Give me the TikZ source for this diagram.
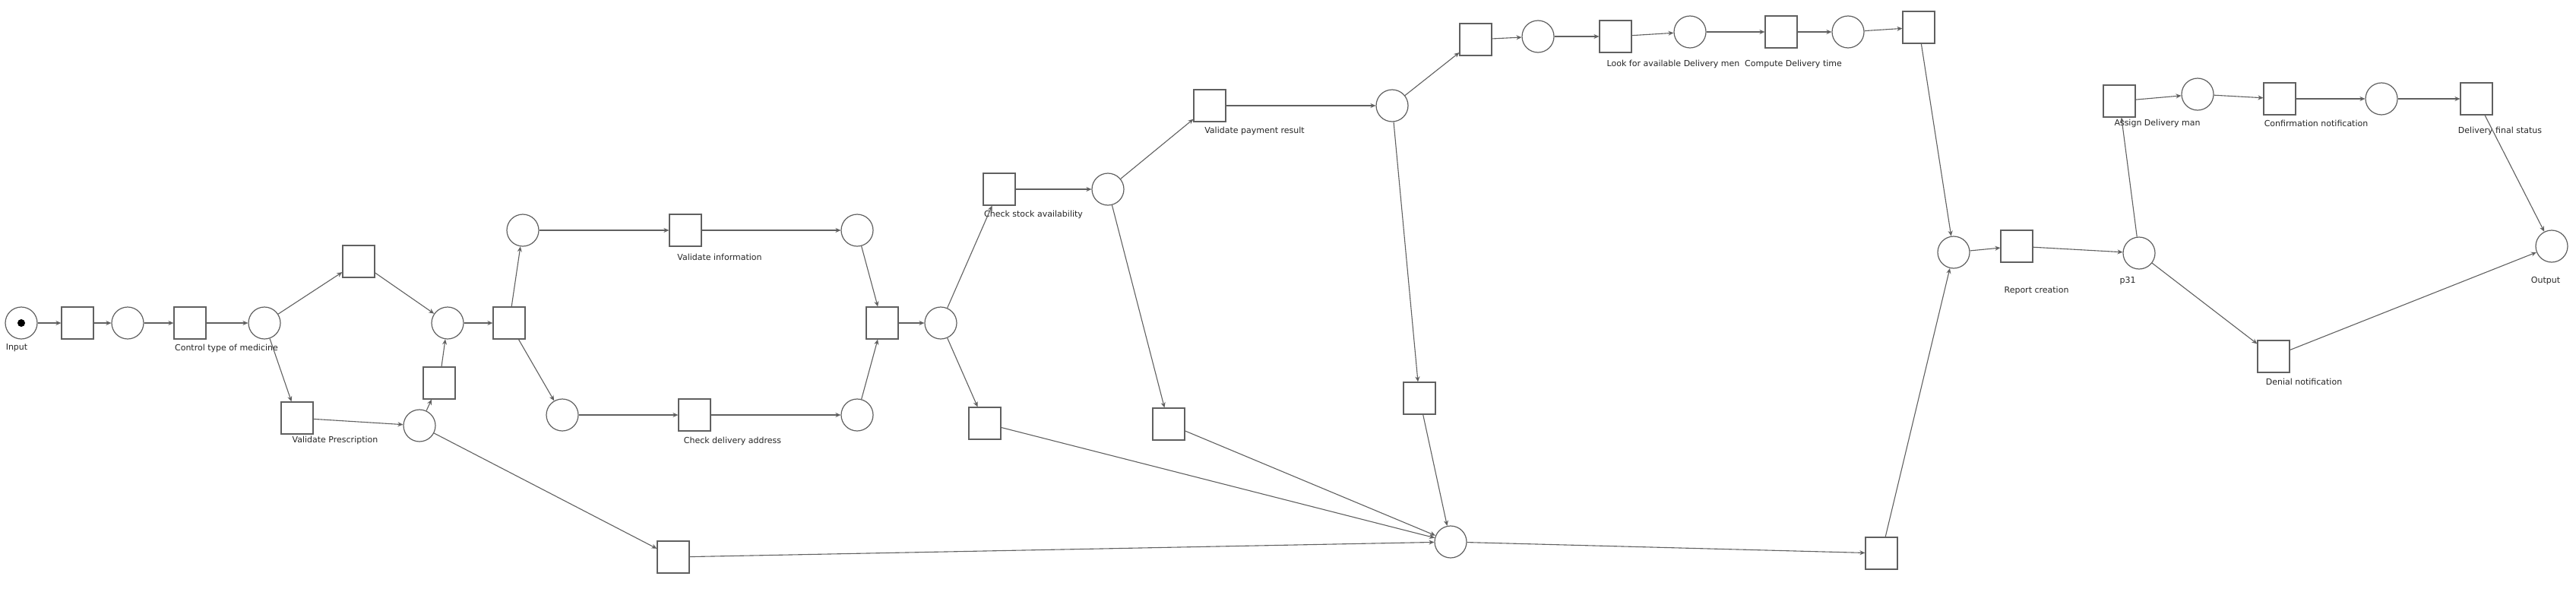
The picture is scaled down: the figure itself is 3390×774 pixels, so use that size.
\documentclass[tikz,border=0pt]{standalone}
\usepackage{fontspec}
\setmainfont{DejaVu Sans}
\usetikzlibrary{arrows.meta}
\definecolor{ln}{HTML}{606060}
\definecolor{tx}{HTML}{262626}
\tikzset{
  place/.style={circle,draw=ln,line width=1.2pt,minimum size=42pt,inner sep=0pt},
  trans/.style={rectangle,draw=ln,line width=1.2pt,minimum width=42pt,minimum height=42pt,inner sep=0pt},
  lbl/.style={text=tx,font=\fontsize{11}{13}\selectfont,inner sep=0pt},
  arc/.style={draw=ln,line width=1.1pt,-{Stealth[length=7pt,width=6pt]}},
  token/.style={circle,fill=black,minimum size=10pt,inner sep=0pt}
}
\begin{document}
\begin{tikzpicture}[x=1pt,y=-1pt]
\useasboundingbox[fill=white] (0,0) rectangle (3390,774);
% places
\node[place] (pin) at (28,425) {};
\node[token] (tok) at (28,425) {};
\node[place] (p2) at (168,425) {};
\node[place] (p3) at (348,425) {};
\node[place] (p4) at (589,425) {};
\node[place] (p5) at (552,560) {};
\node[place] (p6) at (688,303) {};
\node[place] (p7) at (1128,303) {};
\node[place] (p8) at (740,546) {};
\node[place] (p9) at (1128,546) {};
\node[place] (p10) at (1238,425) {};
\node[place] (p11) at (1458,249) {};
\node[place] (p12) at (1832,139) {};
\node[place] (p13) at (2024,48) {};
\node[place] (p14) at (2224,42) {};
\node[place] (p15) at (2432,42) {};
\node[place] (p16) at (2571,332) {};
\node[place] (p17) at (2815,333) {};
\node[place] (p18) at (2892,124) {};
\node[place] (p19) at (3134,130) {};
\node[place] (p20) at (3358,324) {};
\node[place] (p21) at (1909,713) {};
% transitions
\node[trans] (t1) at (102,425) {};
\node[trans] (t2) at (250,425) {};
\node[trans] (t3) at (472,344) {};
\node[trans] (t4) at (391,550) {};
\node[trans] (t5) at (578,504) {};
\node[trans] (t6) at (670,425) {};
\node[trans] (t7) at (902,303) {};
\node[trans] (t8) at (914,546) {};
\node[trans] (t9) at (1161,425) {};
\node[trans] (t10) at (1315,249) {};
\node[trans] (t11) at (1296,557) {};
\node[trans] (t12) at (1538,558) {};
\node[trans] (t13) at (1868,524) {};
\node[trans] (t14) at (1592,139) {};
\node[trans] (t15) at (1942,52) {};
\node[trans] (t16) at (2126,48) {};
\node[trans] (t17) at (2344,42) {};
\node[trans] (t18) at (2525,36) {};
\node[trans] (t19) at (2654,324) {};
\node[trans] (t20) at (2789,133) {};
\node[trans] (t21) at (3000,130) {};
\node[trans] (t22) at (3259,130) {};
\node[trans] (t23) at (2992,469) {};
\node[trans] (t24) at (886,733) {};
\node[trans] (t25) at (2476,728) {};
% labels
\node[lbl] (lin) at (22,458) {Input};
\node[lbl] (lt2) at (298,458) {Control type of medicine};
\node[lbl] (lt4) at (441,579) {Validate Prescription};
\node[lbl] (lt7) at (947,338) {Validate information};
\node[lbl] (lt8) at (964,580) {Check delivery address};
\node[lbl] (lt10) at (1360,282) {Check stock availability};
\node[lbl] (lt14) at (1651,172) {Validate payment result};
\node[lbl] (lt16) at (2202,84) {Look for available Delivery men};
\node[lbl] (lt17) at (2360,84) {Compute Delivery time};
\node[lbl] (lt20) at (2839,162) {Assign Delivery man};
\node[lbl] (lt21) at (3048,162) {Confirmation notification};
\node[lbl] (lt22) at (3290,172) {Delivery final status};
\node[lbl] (lt19) at (2680,382) {Report creation};
\node[lbl] (lp17) at (2800,370) {p31};
\node[lbl] (lp20) at (3350,370) {Output};
\node[lbl] (lt23) at (3032,502) {Denial notification};
% arcs
\draw[arc] (pin) -- (t1);
\draw[arc] (t1) -- (p2);
\draw[arc] (p2) -- (t2);
\draw[arc] (t2) -- (p3);
\draw[arc] (p3) -- (t3);
\draw[arc] (p3) -- (t4);
\draw[arc] (t3) -- (p4);
\draw[arc] (t4) -- (p5);
\draw[arc] (p5) -- (t5);
\draw[arc] (t5) -- (p4);
\draw[arc] (p5) -- (t24);
\draw[arc] (p4) -- (t6);
\draw[arc] (t6) -- (p6);
\draw[arc] (t6) -- (p8);
\draw[arc] (p6) -- (t7);
\draw[arc] (t7) -- (p7);
\draw[arc] (p8) -- (t8);
\draw[arc] (t8) -- (p9);
\draw[arc] (p7) -- (t9);
\draw[arc] (p9) -- (t9);
\draw[arc] (t9) -- (p10);
\draw[arc] (p10) -- (t10);
\draw[arc] (p10) -- (t11);
\draw[arc] (t10) -- (p11);
\draw[arc] (p11) -- (t14);
\draw[arc] (p11) -- (t12);
\draw[arc] (t14) -- (p12);
\draw[arc] (p12) -- (t15);
\draw[arc] (p12) -- (t13);
\draw[arc] (t15) -- (p13);
\draw[arc] (p13) -- (t16);
\draw[arc] (t16) -- (p14);
\draw[arc] (p14) -- (t17);
\draw[arc] (t17) -- (p15);
\draw[arc] (p15) -- (t18);
\draw[arc] (t18) -- (p16);
\draw[arc] (t11) -- (p21);
\draw[arc] (t12) -- (p21);
\draw[arc] (t13) -- (p21);
\draw[arc] (t24) -- (p21);
\draw[arc] (p21) -- (t25);
\draw[arc] (t25) -- (p16);
\draw[arc] (p16) -- (t19);
\draw[arc] (t19) -- (p17);
\draw[arc] (p17) -- (t20);
\draw[arc] (p17) -- (t23);
\draw[arc] (t20) -- (p18);
\draw[arc] (p18) -- (t21);
\draw[arc] (t21) -- (p19);
\draw[arc] (p19) -- (t22);
\draw[arc] (t22) -- (p20);
\draw[arc] (t23) -- (p20);
\end{tikzpicture}
\end{document}
